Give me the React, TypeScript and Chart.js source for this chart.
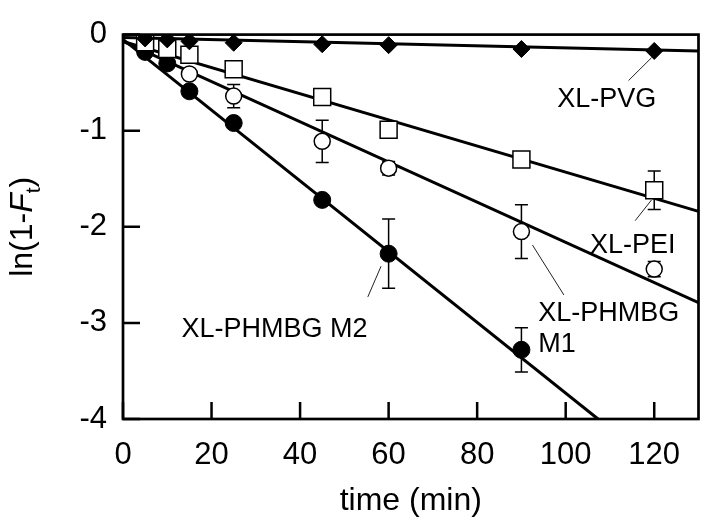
import React, { useEffect, useRef } from "react";
import { Chart, registerables } from "chart.js";

Chart.register(...registerables);

// ---------- data ----------
const xTickValues = [0, 20, 40, 60, 80, 100, 120];
const yTickValues = [-4, -3, -2, -1, 0];

const timePVG = [5, 10, 15, 25, 45, 60, 90, 120];
const lnPVG = [-0.04, -0.05, -0.07, -0.085, -0.1, -0.11, -0.15, -0.17];

const timePEI = [5, 10, 15, 25, 45, 60, 90, 120];
const lnPEI = [-0.08, -0.15, -0.21, -0.36, -0.65, -0.99, -1.3, -1.62];
const errPEI = [0, 0, 0, 0, 0, 0, 0, 0.2];

const timeM1 = [15, 25, 45, 60, 90, 120];
const lnM1 = [-0.41, -0.64, -1.11, -1.39, -2.05, -2.44];
const errM1 = [0, 0.12, 0.22, 0.07, 0.28, 0.08];

const timeM2 = [5, 10, 15, 25, 45, 60, 90];
const lnM2 = [-0.18, -0.3, -0.59, -0.92, -1.72, -2.28, -3.28];
const errM2 = [0, 0, 0, 0, 0, 0.36, 0.23];

// linear fits (start / end)
const fitTimePVG = [0, 130];
const fitPVG = [-0.03, -0.17];
const fitTimePEI = [0, 130];
const fitPEI = [-0.07, -1.84];
const fitTimeM1 = [0, 130];
const fitM1 = [-0.07, -2.79];
const fitTimeM2 = [0, 107.3];
const fitM2 = [-0.05, -4.0];

// annotation labels (data coords of text baseline-left) and leader lines
const labelTexts = ["XL-PVG", "XL-PEI", "XL-PHMBG", "M1", "XL-PHMBG M2"];
const labelX = [98.1, 105.5, 93.8, 93.8, 13.2];
const labelY = [-0.755, -2.27, -2.98, -3.3, -3.15];
const leaderX1 = [114.2, 115.7, 92.5, 55.3];
const leaderY1 = [-0.478, -1.936, -2.19, -2.73];
const leaderX2 = [119.4, 119.4, 99.6, 58.3];
const leaderY2 = [-0.24, -1.72, -2.71, -2.41];

const FONT = "'Liberation Sans', Arial, sans-serif";

const pts = (xs: number[], ys: number[]) => xs.map((x, i) => ({ x, y: ys[i] }));

const errorSets = [
  { xs: timePEI, ys: lnPEI, es: errPEI },
  { xs: timeM1, ys: lnM1, es: errM1 },
  { xs: timeM2, ys: lnM2, es: errM2 },
];

const decorPlugin = {
  id: "decor",
  beforeDatasetsDraw(chart: any) {
    const ctx = chart.ctx;
    const xs = chart.scales.x;
    const ys = chart.scales.y;
    ctx.save();
    ctx.strokeStyle = "#000";
    ctx.lineWidth = 1.5;
    for (const s of errorSets) {
      s.xs.forEach((t, i) => {
        const e = s.es[i];
        if (!e) return;
        const px = xs.getPixelForValue(t);
        const y1 = ys.getPixelForValue(s.ys[i] + e);
        const y2 = ys.getPixelForValue(s.ys[i] - e);
        ctx.beginPath();
        ctx.moveTo(px, y1);
        ctx.lineTo(px, y2);
        ctx.moveTo(px - 6.5, y1);
        ctx.lineTo(px + 6.5, y1);
        ctx.moveTo(px - 6.5, y2);
        ctx.lineTo(px + 6.5, y2);
        ctx.stroke();
      });
    }
    ctx.restore();
  },
  afterDatasetsDraw(chart: any) {
    const ctx = chart.ctx;
    const a = chart.chartArea;
    const xs = chart.scales.x;
    const ys = chart.scales.y;
    ctx.save();
    // frame
    ctx.strokeStyle = "#000";
    ctx.lineWidth = 2.7;
    ctx.strokeRect(a.left, a.top, a.right - a.left, a.bottom - a.top);
    // inward ticks
    ctx.lineWidth = 2.5;
    ctx.beginPath();
    for (const v of xTickValues) {
      const px = xs.getPixelForValue(v);
      ctx.moveTo(px, a.bottom);
      ctx.lineTo(px, a.bottom - 17);
    }
    for (const v of yTickValues) {
      const py = ys.getPixelForValue(v);
      ctx.moveTo(a.left, py);
      ctx.lineTo(a.left + 17, py);
    }
    ctx.stroke();

    // leader lines
    ctx.lineWidth = 1;
    ctx.strokeStyle = "#222";
    ctx.beginPath();
    leaderX1.forEach((x1, i) => {
      ctx.moveTo(xs.getPixelForValue(x1), ys.getPixelForValue(leaderY1[i]));
      ctx.lineTo(xs.getPixelForValue(leaderX2[i]), ys.getPixelForValue(leaderY2[i]));
    });
    ctx.stroke();

    // annotation labels
    ctx.fillStyle = "#000";
    ctx.font = `27px ${FONT}`;
    ctx.textBaseline = "alphabetic";
    ctx.textAlign = "left";
    labelTexts.forEach((t, i) => {
      ctx.fillText(t, xs.getPixelForValue(labelX[i]), ys.getPixelForValue(labelY[i]));
    });

    // x title
    ctx.font = `32px ${FONT}`;
    ctx.textAlign = "center";
    ctx.textBaseline = "alphabetic";
    ctx.fillText("time (min)", (a.left + a.right) / 2, a.bottom + 91);

    // y title: ln(1-F_t)
    const cy = (a.top + a.bottom) / 2;
    ctx.translate(32, cy);
    ctx.rotate(-Math.PI / 2);
    ctx.textAlign = "left";
    ctx.textBaseline = "alphabetic";
    const p1 = "ln(1-";
    const p2 = "F";
    const p3 = "t";
    const p4 = ")";
    ctx.font = `32px ${FONT}`;
    const w1 = ctx.measureText(p1).width;
    const w4 = ctx.measureText(p4).width;
    ctx.font = `italic 32px ${FONT}`;
    const w2 = ctx.measureText(p2).width;
    ctx.font = `21px ${FONT}`;
    const w3 = ctx.measureText(p3).width;
    const total = w1 + w2 + w3 + w4;
    let x = -total / 2;
    ctx.font = `32px ${FONT}`;
    ctx.fillText(p1, x, 0);
    x += w1;
    ctx.font = `italic 32px ${FONT}`;
    ctx.fillText(p2, x, 0);
    x += w2;
    ctx.font = `21px ${FONT}`;
    ctx.fillText(p3, x, 8);
    x += w3;
    ctx.font = `32px ${FONT}`;
    ctx.fillText(p4, x, 0);
    ctx.restore();
  },
};

export default function App() {
  const ref = useRef<HTMLCanvasElement | null>(null);
  useEffect(() => {
    if (!ref.current) return;
    const lineDs = (xs: number[], ys: number[]) => ({
      type: "line" as const,
      data: pts(xs, ys),
      borderColor: "#000",
      borderWidth: 3,
      pointRadius: 0,
      showLine: true,
      fill: false,
      order: 10,
    });
    const chart = new Chart(ref.current, {
      type: "scatter",
      data: {
        datasets: [
          {
            label: "XL-PVG",
            data: pts(timePVG, lnPVG),
            pointStyle: "rectRot",
            pointRadius: 8.5,
            backgroundColor: "#000",
            borderColor: "#000",
            borderWidth: 1,
            order: 0,
          },
          {
            label: "XL-PEI",
            data: pts(timePEI, lnPEI),
            pointStyle: "rect",
            pointRadius: 12,
            backgroundColor: "#fff",
            borderColor: "#000",
            borderWidth: 1.5,
            order: 1,
          },
          {
            label: "XL-PHMBG M2",
            data: pts(timeM2, lnM2),
            pointStyle: "circle",
            pointRadius: 8.5,
            backgroundColor: "#000",
            borderColor: "#000",
            borderWidth: 1,
            order: 2,
          },
          {
            label: "XL-PHMBG M1",
            data: pts(timeM1, lnM1),
            pointStyle: "circle",
            pointRadius: 8,
            backgroundColor: "#fff",
            borderColor: "#000",
            borderWidth: 1.5,
            order: 3,
          },
          lineDs(fitTimePVG, fitPVG) as any,
          lineDs(fitTimePEI, fitPEI) as any,
          lineDs(fitTimeM1, fitM1) as any,
          lineDs(fitTimeM2, fitM2) as any,
        ],
      },
      options: {
        responsive: false,
        animation: false,
        layout: { padding: { top: 26, right: 10, left: 0, bottom: 0 } },
        plugins: { legend: { display: false }, tooltip: { enabled: false } },
        scales: {
          x: {
            type: "linear",
            min: 0,
            max: 130,
            afterBuildTicks: (s: any) => {
              s.ticks = xTickValues.map((value) => ({ value }));
            },
            afterFit: (s: any) => {
              s.height = 110;
            },
            grid: { display: false, drawTicks: false },
            border: { display: false },
            ticks: {
              color: "#000",
              font: { family: FONT, size: 31 },
              padding: 18,
              maxRotation: 0,
              callback: (v: any) => String(v),
            },
          },
          y: {
            type: "linear",
            min: -4,
            max: 0,
            afterBuildTicks: (s: any) => {
              s.ticks = yTickValues.map((value) => ({ value }));
            },
            afterFit: (s: any) => {
              s.width = 123;
            },
            grid: { display: false, drawTicks: false },
            border: { display: false },
            ticks: {
              color: "#000",
              font: { family: FONT, size: 31 },
              padding: 16,
              callback: (v: any) => String(v),
            },
          },
        },
      },
      plugins: [decorPlugin],
    });
    return () => chart.destroy();
  }, []);
  return (
    <div style={{ position: "fixed", left: 0, top: 0, width: 712, height: 529, background: "#fff" }}>
      <canvas ref={ref} width={712} height={529} />
    </div>
  );
}
